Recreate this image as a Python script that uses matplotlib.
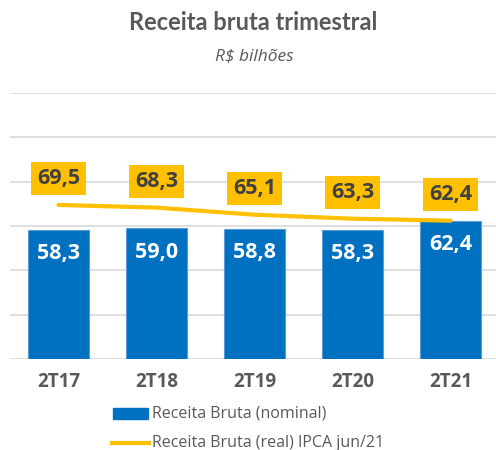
import matplotlib
matplotlib.use("Agg")
import matplotlib.pyplot as plt
from matplotlib.patches import Rectangle
from matplotlib.lines import Line2D

categories = ["2T17", "2T18", "2T19", "2T20", "2T21"]
nominal = [58.3, 59.0, 58.8, 58.3, 62.4]
real = [69.5, 68.3, 65.1, 63.3, 62.4]
nominal_labels = ["58,3", "59,0", "58,8", "58,3", "62,4"]
real_labels = ["69,5", "68,3", "65,1", "63,3", "62,4"]
legend_labels = ["Receita Bruta (nominal)", "Receita Bruta (real) IPCA jun/21"]
title = "Receita bruta trimestral"
subtitle = "R$ bilhões"

BLUE = "#0070c0"
YELLOW = "#ffc000"
DARK = "#404040"
GRAY = "#595959"

W, H = 496, 450
fig = plt.figure(figsize=(W / 100, H / 100), dpi=100)

# axes placement in pixels
left, right, top, bottom = 9.5, 499.5, 93, 359
ax = fig.add_axes([left / W, 1 - bottom / H, (right - left) / W, (bottom - top) / H])
ax.set_xlim(-0.5, 4.5)
ax.set_ylim(0, 120)
ax.set_yticks(range(0, 121, 20))
ax.yaxis.grid(True, color="#d9d9d9", linewidth=1.2)
ax.set_axisbelow(True)
for s in ax.spines.values():
    s.set_visible(False)
ax.tick_params(axis="y", left=False, labelleft=False)
ax.tick_params(axis="x", bottom=False, pad=6)
x = list(range(len(categories)))
ax.set_xticks(x)
ax.set_xticklabels(categories, fontsize=13.5, fontweight="bold", color=GRAY, family="Open Sans")

ax.bar(x, nominal, width=0.62, color=BLUE, edgecolor="#5b9bd5", linewidth=0.8, zorder=2)
ax.plot(x, real, color=YELLOW, linewidth=3, zorder=3, solid_capstyle="round")

for xi, v, lab in zip(x, nominal, nominal_labels):
    ax.annotate(lab, (xi, v), xytext=(0, -24), textcoords="offset pixels",
                ha="center", va="center", color="white", fontsize=15.5,
                fontweight="bold", family="Open Sans", zorder=4)
for xi, v, lab in zip(x, real, real_labels):
    ax.annotate(lab, (xi, v), xytext=(0, 26), textcoords="offset pixels",
                ha="center", va="center", color=DARK, fontsize=15.5,
                fontweight="bold", family="Open Sans", zorder=5,
                bbox=dict(boxstyle="square,pad=0.28", fc=YELLOW, ec="none"))

fig.text(253 / W, 1 - 23 / H, title, ha="center", va="center", fontsize=17,
         fontweight="bold", color=GRAY, family="Lato")
fig.text(254 / W, 1 - 56 / H, subtitle, ha="center", va="center", fontsize=12.5,
         style="italic", color=GRAY, family="Open Sans")

# legend
fig.patches.append(Rectangle((113 / W, 1 - 419 / H), 35 / W, 11 / H,
                             transform=fig.transFigure, color=BLUE))
fig.lines.append(Line2D([112 / W, 149 / W], [1 - 443 / H, 1 - 443 / H],
                        transform=fig.transFigure, color=YELLOW, linewidth=3))
fig.text(152 / W, 1 - 413 / H, legend_labels[0], ha="left", va="center",
         fontsize=11.5, color=GRAY, family="Open Sans")
fig.text(152 / W, 1 - 443 / H, legend_labels[1], ha="left", va="center",
         fontsize=11.5, color=GRAY, family="Open Sans")

fig.savefig("out.png", dpi=100)
